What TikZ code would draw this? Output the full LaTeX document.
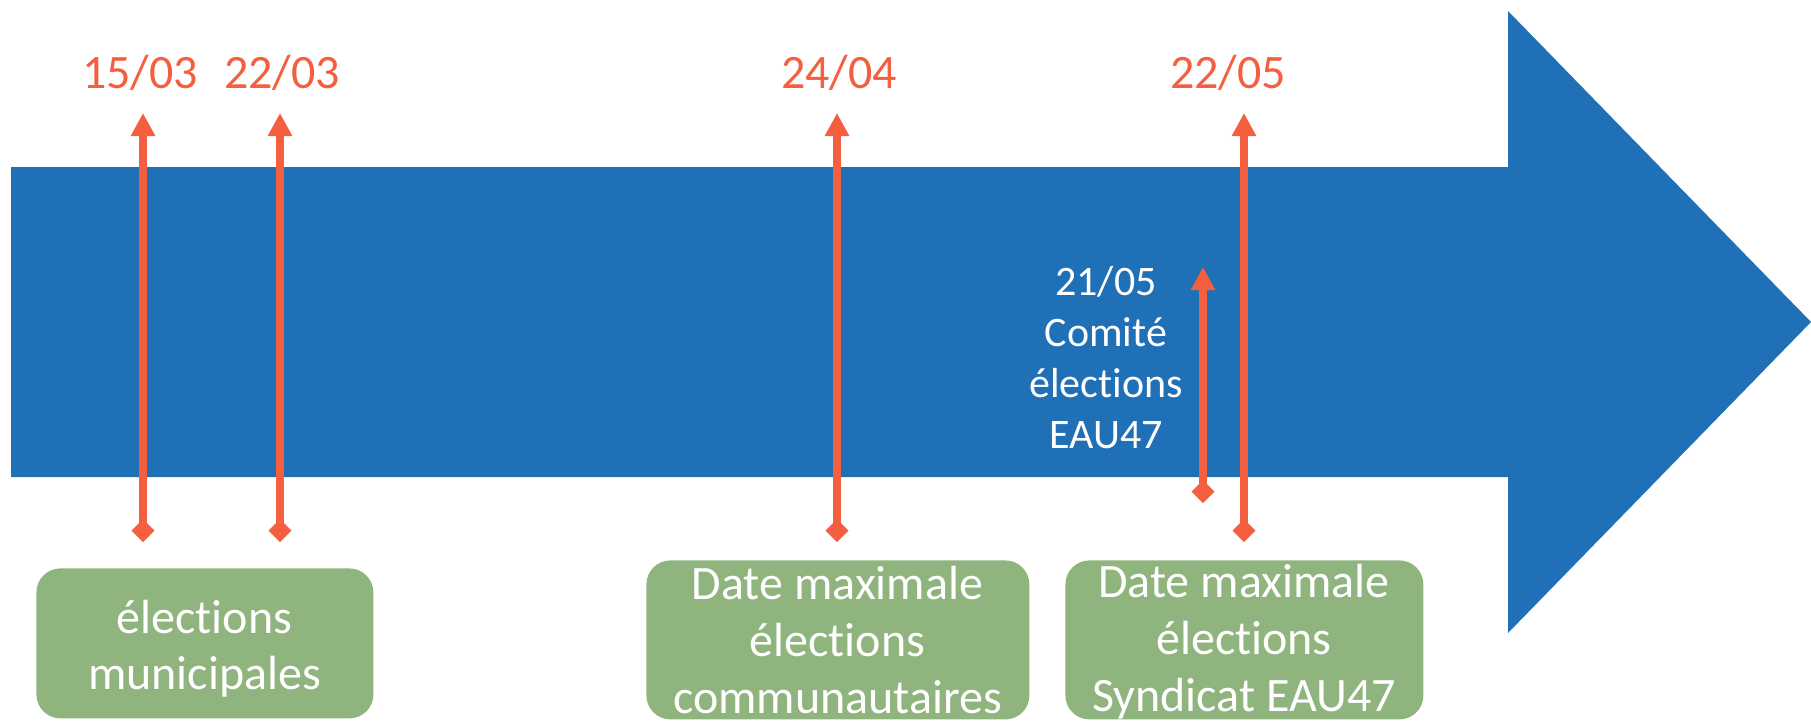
\documentclass[tikz,border=0pt]{standalone}
\usepackage{fontspec}
\setmainfont{Carlito}[Ligatures=NoCommon]
\usepackage{tikz}
\usetikzlibrary{arrows.meta}
\definecolor{tlblue}{HTML}{1F70B7}
\definecolor{tlred}{HTML}{F4603F}
\definecolor{tlgreen}{HTML}{8FB47D}

\tikzset{
  datelbl/.style={text=tlred, font=\fontsize{24}{28}\selectfont, anchor=base, inner sep=0pt},
  datearrow/.style={draw=tlred, line width=4pt, {Diamond[length=11.5pt,width=11.5pt]}-{Triangle[length=11.5pt,width=11.5pt]}},
  phasebox/.style={fill=tlgreen, rounded corners=12pt, anchor=north west, inner sep=0pt},
  phasetxt/.style={text=white, align=center, font=\fontsize{24}{28}\selectfont, anchor=base, inner sep=0pt},
}

\begin{document}
\begin{tikzpicture}[x=0.5pt, y=-0.5pt]
			\useasboundingbox (0,0) rectangle (1811,720);
			% big timeline arrow
			\fill[tlblue] (11,167) -- (1508,167) -- (1508,11) -- (1811,322) -- (1508,633) -- (1508,477) -- (11,477) -- cycle;
			% dates and their arrows
			\foreach \id/\ax/\lx/\dt in {mun1/143/140/{15/03}, mun2/280/282/{22/03}, comm/837/839/{24/04}, synd/1244/1228/{22/05}} {
				\node[datelbl] (d-\id) at (\lx,88) {\dt};
				\coordinate (top-\id) at (\ax,113);
				\coordinate (bot-\id) at (\ax,542);
				\draw[datearrow] (bot-\id) -- (top-\id);
			}
			% comite inside the arrow
			\coordinate (top-comite) at (1203,267);
			\coordinate (bot-comite) at (1203,503);
			\draw[datearrow] (bot-comite) -- (top-comite);
			\node[phasetxt, font=\fontsize{21}{25.5}\selectfont] (comite) at (1106,448) {21/05\\Comité\\élections\\EAU47};
			% green boxes (text anchored on last line)
			\node[phasebox, minimum width=168.5pt, minimum height=75pt] (box-mun) at (36,568) {};
			\node[phasebox, minimum width=191.5pt, minimum height=79.5pt] (box-comm) at (646,560) {};
			\node[phasebox, minimum width=179pt, minimum height=79.5pt] (box-synd) at (1065,560) {};
			\node[phasetxt] (txt-mun) at (204.5,689) {élections\\municipales};
			\node[phasetxt, font=\fontsize{24}{28.5}\selectfont] (txt-comm) at (837.5,713) {Date maximale\\élections\\communautaires};
			\node[phasetxt, font=\fontsize{24}{28.5}\selectfont] (txt-synd) at (1244,711) {Date maximale\\élections\\Syndicat EAU47};
		\end{tikzpicture}
\end{document}
